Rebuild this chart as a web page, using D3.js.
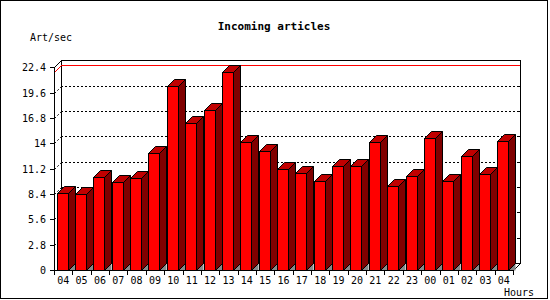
<!DOCTYPE html>
<html>
<head>
<meta charset="utf-8">
<script src="https://cdn.jsdelivr.net/npm/d3@7"></script>
<style>
html,body{margin:0;padding:0;background:#fff;}
svg{display:block;}
text{font-family:"DejaVu Sans Mono",monospace;fill:#000;}
</style>
</head>
<body>
<svg id="c" width="550" height="300"></svg>
<script>
// ---- data ----
const hours = ["04","05","06","07","08","09","10","11","12","13","14","15","16","17","18","19","20","21","22","23","00","01","02","03","04"];
const rate = [8.48,8.36,10.24,9.69,10.13,12.9,20.33,16.21,17.65,21.85,14.11,13.12,11.13,10.69,9.8,11.46,11.46,14.11,9.28,10.35,14.55,9.8,12.56,10.57,14.22];
const yTicks = [0,2.8,5.6,8.4,11.2,14,16.8,19.6,22.4];
const yTickLabels = ["0","2.8","5.6","8.4","11.2","14","16.8","19.6","22.4"];
const maxLineValue = [21.85];
const titleText = "Incoming articles";
const yAxisTitle = "Art/sec";
const xAxisTitle = "Hours";

// ---- layout ----
const svg = d3.select("#c");
const left = 54, right = 513, base = 270, dep = 7;
const y = d3.scaleLinear().domain([0, 22.4]).range([base, 67.3]);
const x = d3.scaleBand().domain(d3.range(hours.length)).range([left, right]).paddingInner(0).paddingOuter(0);
const bw = 11;

// outer frame
svg.append("rect").attr("x",0.5).attr("y",0.5).attr("width",547).attr("height",298)
  .attr("fill","none").attr("stroke","#000").attr("stroke-width",1);

const g = svg.append("g").attr("shape-rendering","crispEdges");

// back-wall dotted grid
const gridVals = yTicks.filter(v => v > 0 && v < 22.4);
g.selectAll(".grid").data(gridVals).enter().append("line")
  .attr("x1", left + dep).attr("x2", right + dep)
  .attr("y1", d => Math.round(y(d) - dep) + 0.5).attr("y2", d => Math.round(y(d) - dep) + 0.5)
  .attr("stroke","#000").attr("stroke-dasharray","2,2");
// diagonal grid segments on the left side wall
svg.selectAll(".gdiag").data(gridVals).enter().append("line")
  .attr("x1", left + 0.5).attr("x2", left + dep + 0.5)
  .attr("y1", d => Math.round(y(d)) + 0.5).attr("y2", d => Math.round(y(d)) - dep + 0.5)
  .attr("stroke","#000").attr("stroke-dasharray","2,2");

// back frame
const topB = Math.round(y(22.4) - dep) + 0.5;
const baseB = base - dep + 0.5;
g.append("path").attr("fill","none").attr("stroke","#000")
  .attr("d", `M${left+dep+0.5},${baseB} L${left+dep+0.5},${topB} L${right+dep+0.5},${topB} L${right+dep+0.5},${baseB}`);
g.append("line").attr("x1",left+dep).attr("x2",right+dep).attr("y1",baseB).attr("y2",baseB).attr("stroke","#000");
svg.append("line").attr("x1",left+0.5).attr("y1",Math.round(y(22.4))+0.5).attr("x2",left+dep+0.5).attr("y2",topB)
  .attr("stroke","#000").attr("shape-rendering","crispEdges");
svg.append("line").attr("x1",right+dep+0.5).attr("y1",baseB).attr("x2",right+0.5).attr("y2",base+0.5)
  .attr("stroke","#000").attr("shape-rendering","crispEdges");
// right wall ticks
g.selectAll(".rt").data(gridVals).enter().append("line")
  .attr("x1", right + dep - 3).attr("x2", right + dep)
  .attr("y1", d => Math.round(y(d) - dep) + 0.5).attr("y2", d => Math.round(y(d) - dep) + 0.5)
  .attr("stroke","#000");

// red max line
maxLineValue.forEach(v => {
  const yf = Math.round(y(v)) + 0.5, yb = yf - dep;
  svg.append("path").attr("fill","none").attr("stroke","#ff0000").attr("shape-rendering","crispEdges")
    .attr("d", `M${left+0.5},${yf} L${left+dep+0.5},${yb} L${right+dep},${yb}`);
});

// bars
const bars = svg.append("g").attr("class","bars");
rate.forEach((v, i) => {
  const x0 = Math.round(x(i) + (x.bandwidth() - bw) / 2 - 1) + 0.5;
  const x1 = x0 + bw;
  const yt = Math.round(y(v)) + 0.5;
  const yb = base + 0.5;
  // floor shadow
  bars.append("path").attr("fill","#888").attr("stroke","none")
    .attr("d", `M${x1},${yb} L${x1+dep},${yb-dep} L${x1+dep},${yb} Z`);
  // side
  bars.append("path").attr("fill","#800000").attr("stroke","#000").attr("stroke-linejoin","miter")
    .attr("d", `M${x1},${yt} L${x1+dep},${yt-dep} L${x1+dep},${yb-dep} L${x1},${yb} Z`);
  // top
  bars.append("path").attr("fill","#c00000").attr("stroke","#000")
    .attr("d", `M${x0},${yt} L${x0+dep},${yt-dep} L${x1+dep},${yt-dep} L${x1},${yt} Z`);
  // front
  bars.append("rect").attr("x",x0).attr("y",yt).attr("width",bw).attr("height",yb-yt)
    .attr("fill","#ff0000").attr("stroke","#000").attr("shape-rendering","crispEdges");
});

// front y axis
const ax = svg.append("g").attr("shape-rendering","crispEdges");
ax.append("line").attr("x1",left+0.5).attr("x2",left+0.5).attr("y1",Math.round(y(22.4))).attr("y2",base+1).attr("stroke","#000");
ax.selectAll(".yt").data(yTicks).enter().append("line")
  .attr("x1",left-4).attr("x2",left).attr("y1",d=>Math.round(y(d))+0.5).attr("y2",d=>Math.round(y(d))+0.5).attr("stroke","#000");
svg.selectAll(".yl").data(yTicks).enter().append("text")
  .attr("x",46).attr("y",d=>y(d)+4).attr("text-anchor","end").attr("font-size","10px")
  .text((d,i)=>yTickLabels[i]);

// x axis
ax.append("line").attr("x1",left).attr("x2",right+1).attr("y1",base+0.5).attr("y2",base+0.5).attr("stroke","#000");
const bounds = d3.range(hours.length+1).map(i => i < hours.length ? x(i) : right);
ax.selectAll(".xt").data(bounds).enter().append("line")
  .attr("x1",d=>Math.round(d)+0.5).attr("x2",d=>Math.round(d)+0.5).attr("y1",base).attr("y2",base+5).attr("stroke","#000");
svg.selectAll(".xl").data(hours).enter().append("text")
  .attr("x",(d,i)=>x(i)+x.bandwidth()/2).attr("y",284).attr("text-anchor","middle").attr("font-size","10px")
  .text(d=>d);

// titles
svg.append("text").attr("x",274).attr("y",30).attr("text-anchor","middle").attr("font-size","11px").attr("font-weight","bold").text(titleText);
svg.append("text").attr("x",30).attr("y",41).attr("font-size","10px").text(yAxisTitle);
svg.append("text").attr("x",504).attr("y",296).attr("font-size","10px").text(xAxisTitle);
</script>
</body>
</html>
